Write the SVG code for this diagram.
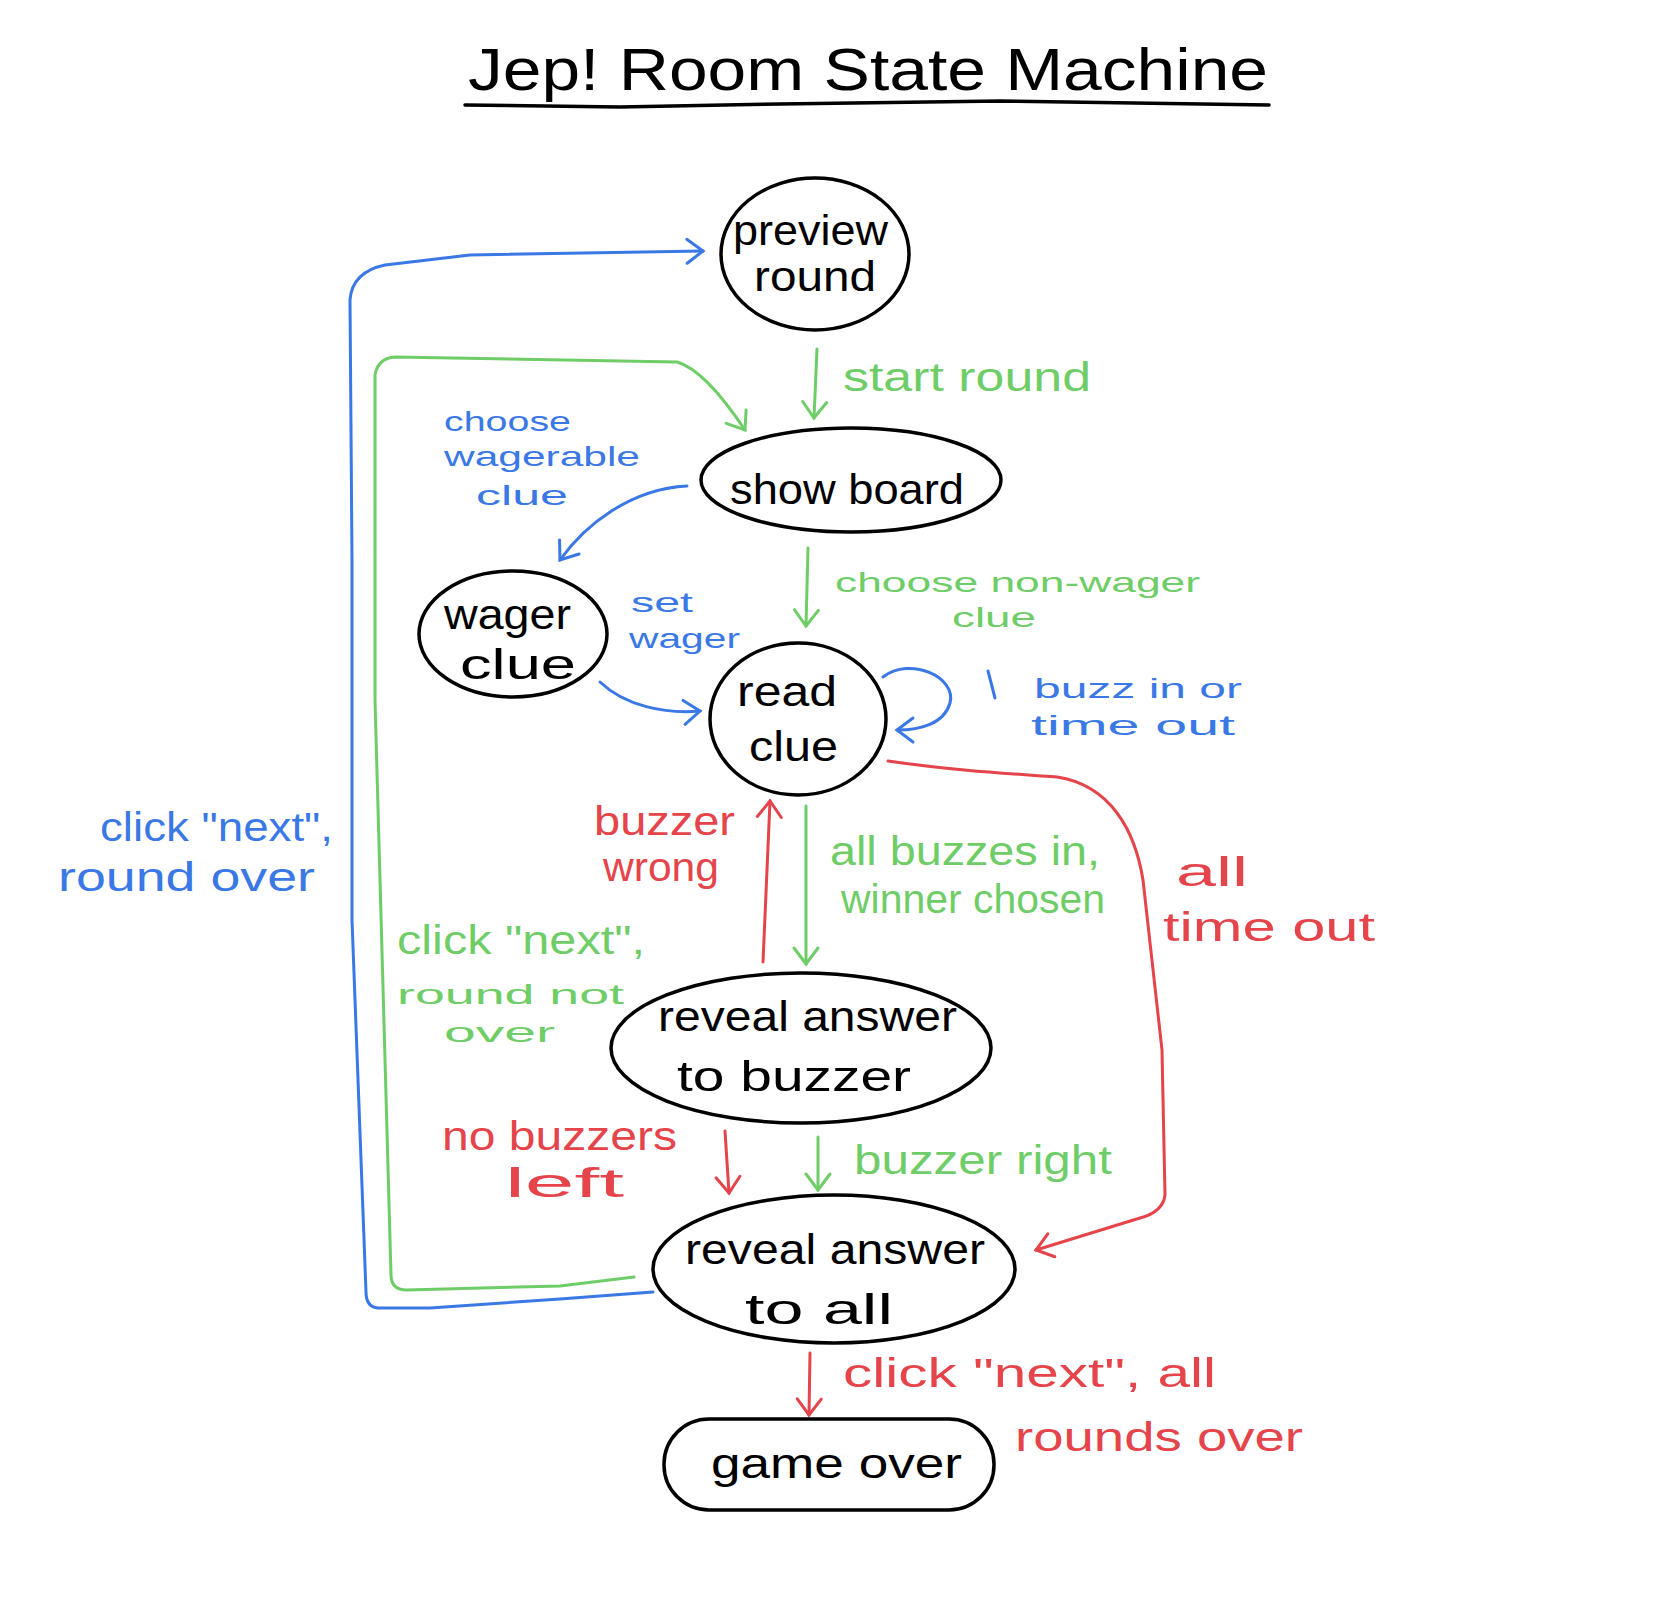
<svg xmlns="http://www.w3.org/2000/svg" width="1658" height="1601" viewBox="0 0 1658 1601">
<style>
text{font-family:"Liberation Sans","DejaVu Sans",sans-serif;font-size:40px;}
.t{fill:#000;font-size:42px;}
.s{font-size:28px;}
.g{fill:#6fcd68;}
.b{fill:#3a78e6;}
.r{fill:#e4444a;}
.node{fill:none;stroke:#000;stroke-width:3.5;}
.cg{fill:none;stroke:#6fcd68;stroke-width:3;stroke-linecap:round;stroke-linejoin:round;}
.cb{fill:none;stroke:#3a78e6;stroke-width:3;stroke-linecap:round;stroke-linejoin:round;}
.cr{fill:none;stroke:#e4444a;stroke-width:3;stroke-linecap:round;stroke-linejoin:round;}
</style>
<defs>
<marker id="ag" markerUnits="userSpaceOnUse" markerWidth="40" markerHeight="40" refX="0" refY="0" viewBox="-20 -20 40 40" orient="auto"><path d="M-16,-12 L0,0 L-16,12" fill="none" stroke="#6fcd68" stroke-width="3" stroke-linecap="round"/></marker>
<marker id="ab" markerUnits="userSpaceOnUse" markerWidth="40" markerHeight="40" refX="0" refY="0" viewBox="-20 -20 40 40" orient="auto"><path d="M-16,-12 L0,0 L-16,12" fill="none" stroke="#3a78e6" stroke-width="3" stroke-linecap="round"/></marker>
<marker id="ar" markerUnits="userSpaceOnUse" markerWidth="40" markerHeight="40" refX="0" refY="0" viewBox="-20 -20 40 40" orient="auto"><path d="M-16,-12 L0,0 L-16,12" fill="none" stroke="#e4444a" stroke-width="3" stroke-linecap="round"/></marker>
</defs>
<rect width="1658" height="1601" fill="#fff"/>
<g id="title">
<text x="468" y="90" style="font-size:60px" fill="#000" textLength="800" lengthAdjust="spacingAndGlyphs">Jep! Room State Machine</text>
<path d="M465,105 L620,107 L780,104 L1000,101 L1269,105" fill="none" stroke="#000" stroke-width="3.5" stroke-linecap="round"/>
</g>
<g id="connectors">
<path class="cg" marker-end="url(#ag)" d="M817,349 L814,418"/>
<path class="cg" marker-end="url(#ag)" d="M808,548 L806,626"/>
<path class="cg" marker-end="url(#ag)" d="M806,806 L806,964"/>
<path class="cg" marker-end="url(#ag)" d="M818,1137 L818,1190"/>
<path class="cg" marker-end="url(#ag)" d="M634,1277 L560,1286 L407,1290 Q391,1290 391,1275 L375,700 L375,375 Q378,358 395,357 L677,362 Q705,370 745,430"/>
<path class="cb" marker-end="url(#ab)" d="M653,1292 L560,1299 L430,1308 L378,1308 Q366,1307 366,1292 L352,920 L352,560 L350,300 Q352,272 385,265 L470,255 L703,251"/>
<path class="cb" marker-end="url(#ab)" d="M687,486 C630,489 585,525 560,560"/>
<path class="cb" marker-end="url(#ab)" d="M600,682 C625,706 665,714 700,711"/>
<path class="cb" marker-end="url(#ab)" d="M883,677 C910,656 957,677 950,703 C944,724 920,730 897,730"/>
<path class="cb" d="M988,671 L995,698"/>
<path class="cr" marker-end="url(#ar)" d="M888,761 C950,770 1000,773 1057,777 C1110,785 1135,830 1143,880 L1162,1050 L1165,1195 Q1163,1212 1140,1218 L1036,1250"/>
<path class="cr" marker-end="url(#ar)" d="M763,962 L770,801"/>
<path class="cr" marker-end="url(#ar)" d="M725,1131 L729,1193"/>
<path class="cr" marker-end="url(#ar)" d="M810,1353 L809,1415"/>
</g>
<g id="preview_round">
<ellipse class="node" cx="815" cy="254" rx="94" ry="76"/>
<text class="t" x="733" y="245" textLength="155" lengthAdjust="spacingAndGlyphs">preview</text>
<text class="t" x="754" y="291" textLength="122" lengthAdjust="spacingAndGlyphs">round</text>
</g>
<g id="show_board">
<ellipse class="node" cx="851" cy="480" rx="150" ry="52"/>
<text class="t" x="730" y="504" textLength="234" lengthAdjust="spacingAndGlyphs">show board</text>
</g>
<g id="wager_clue">
<ellipse class="node" cx="513" cy="634" rx="94" ry="63"/>
<text class="t" x="444" y="629" textLength="127" lengthAdjust="spacingAndGlyphs">wager</text>
<text class="t" x="460" y="679" textLength="116" lengthAdjust="spacingAndGlyphs">clue</text>
</g>
<g id="read_clue">
<ellipse class="node" cx="798" cy="719" rx="88" ry="76"/>
<text class="t" x="737" y="706" textLength="100" lengthAdjust="spacingAndGlyphs">read</text>
<text class="t" x="749" y="761" textLength="89" lengthAdjust="spacingAndGlyphs">clue</text>
</g>
<g id="reveal_answer_to_buzzer">
<ellipse class="node" cx="801" cy="1048" rx="190" ry="75"/>
<text class="t" x="658" y="1031" textLength="299" lengthAdjust="spacingAndGlyphs">reveal answer</text>
<text class="t" x="677" y="1091" textLength="234" lengthAdjust="spacingAndGlyphs">to buzzer</text>
</g>
<g id="reveal_answer_to_all">
<ellipse class="node" cx="834" cy="1269" rx="181" ry="74"/>
<text class="t" x="685" y="1264" textLength="300" lengthAdjust="spacingAndGlyphs">reveal answer</text>
<text class="t" x="745" y="1324" textLength="148" lengthAdjust="spacingAndGlyphs">to all</text>
</g>
<g id="game_over">
<rect class="node" x="664" y="1419" width="330" height="91" rx="45"/>
<text class="t" x="711" y="1478" textLength="251" lengthAdjust="spacingAndGlyphs">game over</text>
</g>
<g id="labels">
<text class="g" x="843" y="391" textLength="248" lengthAdjust="spacingAndGlyphs">start round</text>
<text class="g s" x="835" y="592" textLength="365" lengthAdjust="spacingAndGlyphs">choose non-wager</text>
<text class="g s" x="952" y="627" textLength="84" lengthAdjust="spacingAndGlyphs">clue</text>
<text class="g" x="830" y="865" textLength="270" lengthAdjust="spacingAndGlyphs">all buzzes in,</text>
<text class="g" x="841" y="913" textLength="264" lengthAdjust="spacingAndGlyphs">winner chosen</text>
<text class="g" x="397" y="954" textLength="248" lengthAdjust="spacingAndGlyphs">click "next",</text>
<text class="g s" x="397" y="1004" textLength="227" lengthAdjust="spacingAndGlyphs">round not</text>
<text class="g s" x="444" y="1042" textLength="111" lengthAdjust="spacingAndGlyphs">over</text>
<text class="g" x="854" y="1174" textLength="258" lengthAdjust="spacingAndGlyphs">buzzer right</text>
<text class="b s" x="444" y="431" textLength="127" lengthAdjust="spacingAndGlyphs">choose</text>
<text class="b s" x="444" y="466" textLength="196" lengthAdjust="spacingAndGlyphs">wagerable</text>
<text class="b s" x="476" y="505" textLength="92" lengthAdjust="spacingAndGlyphs">clue</text>
<text class="b s" x="631" y="612" textLength="62" lengthAdjust="spacingAndGlyphs">set</text>
<text class="b s" x="629" y="648" textLength="111" lengthAdjust="spacingAndGlyphs">wager</text>
<text class="b s" x="1034" y="698" textLength="208" lengthAdjust="spacingAndGlyphs">buzz in or</text>
<text class="b s" x="1031" y="735" textLength="204" lengthAdjust="spacingAndGlyphs">time out</text>
<text class="b" x="100" y="841" textLength="233" lengthAdjust="spacingAndGlyphs">click "next",</text>
<text class="b" x="58" y="891" textLength="257" lengthAdjust="spacingAndGlyphs">round over</text>
<text class="r" x="594" y="835" textLength="141" lengthAdjust="spacingAndGlyphs">buzzer</text>
<text class="r" x="603" y="881" textLength="116" lengthAdjust="spacingAndGlyphs">wrong</text>
<text class="r" x="1176" y="886" textLength="72" lengthAdjust="spacingAndGlyphs">all</text>
<text class="r" x="1163" y="941" textLength="212" lengthAdjust="spacingAndGlyphs">time out</text>
<text class="r" x="442" y="1150" textLength="235" lengthAdjust="spacingAndGlyphs">no buzzers</text>
<text class="r" x="505" y="1197" textLength="119" lengthAdjust="spacingAndGlyphs">left</text>
<text class="r" x="843" y="1387" textLength="373" lengthAdjust="spacingAndGlyphs">click "next", all</text>
<text class="r" x="1015" y="1451" textLength="288" lengthAdjust="spacingAndGlyphs">rounds over</text>
</g>
</svg>
